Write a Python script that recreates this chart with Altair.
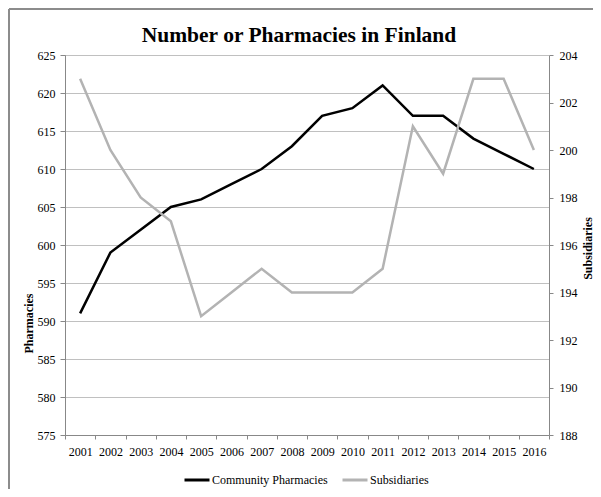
import altair as alt
import pandas as pd

title_text = "Number or Pharmacies in Finland"
years = [str(y) for y in range(2001, 2017)]
pharmacies = [591, 599, 602, 605, 606, 608, 610, 613, 617, 618, 621, 617, 617, 614, 612, 610]
subsidiaries = [203, 200, 198, 197, 193, 194, 195, 194, 194, 194, 195, 201, 199, 203, 203, 200]
series_names = ["Community Pharmacies", "Subsidiaries"]
series_colors = ["#000000", "#b3b3b3"]
left_ticks = list(range(575, 630, 5))
right_ticks = list(range(188, 206, 2))

df = pd.DataFrame({
    "year": years * 2,
    "value": pharmacies + subsidiaries,
    "series": [series_names[0]] * len(years) + [series_names[1]] * len(years),
})

FONT = "Liberation Serif"
W, H = 484, 380
axis_style = dict(labelFont=FONT, labelFontSize=12, labelColor="black",
                  titleFont=FONT, titleFontSize=12, titleFontWeight="bold", titleColor="black",
                  domainColor="#888888", tickColor="#888888")

color = alt.Color(
    "series:N",
    scale=alt.Scale(domain=series_names, range=series_colors),
    legend=alt.Legend(
        title=None, orient="none", direction="horizontal",
        legendX=118, legendY=411, symbolType="stroke", symbolSize=625,
        symbolStrokeWidth=3, labelOffset=1, columnPadding=8,
        labelFont=FONT, labelFontSize=12, labelColor="black",
    ),
)

x = alt.X(
    "year:O", bandPosition=0.5,
    scale=alt.Scale(type="band", paddingInner=0, paddingOuter=0),
    axis=alt.Axis(title=None, labelAngle=0, tickBand="extent", tickSize=4,
                  labelPadding=7, **axis_style),
)

base = alt.Chart(df)

left = base.transform_filter(alt.datum.series == series_names[0]).mark_line(strokeWidth=2.5).encode(
    x=x,
    y=alt.Y("value:Q", scale=alt.Scale(domain=[575, 625], nice=False, zero=False),
            axis=alt.Axis(values=left_ticks, grid=True, gridDash=[1, 1], gridColor="#808080",
                          gridWidth=1, tickSize=5, labelPadding=5, title="Pharmacies",
                          titleX=-30, titleY=268, titleAngle=270, **axis_style)),
    color=color,
)

right = base.transform_filter(alt.datum.series == series_names[1]).mark_line(strokeWidth=2.5).encode(
    x=x,
    y=alt.Y("value:Q", scale=alt.Scale(domain=[188, 204], nice=False, zero=False),
            axis=alt.Axis(orient="right", values=right_ticks, grid=False, tickSize=4,
                          labelPadding=6, title="Subsidiaries", titleX=45, titleY=193,
                          titleAngle=270, **axis_style)),
    color=color,
)

single = alt.Chart(alt.Data(values=[{}]))
frame_left = single.mark_rule(color="#8c8c8c", strokeWidth=2).encode(
    x=alt.value(-56), y=alt.value(-46), y2=alt.value(440))
frame_top = single.mark_rule(color="#8c8c8c", strokeWidth=2).encode(
    x=alt.value(-56), x2=alt.value(540), y=alt.value(-46))
title = single.mark_text(font=FONT, fontSize=21.5, fontWeight="bold", color="black",
                         align="center", baseline="alphabetic").encode(
    text=alt.value(title_text), x=alt.value(234), y=alt.value(-13))

chart = alt.layer(left, right, frame_left, frame_top, title).resolve_scale(
    y="independent"
).properties(
    width=W, height=H,
    autosize=alt.AutoSizeParams(type="none"),
    padding={"left": 57, "top": 47, "right": 44, "bottom": 54},
).configure_axis(
    labelFont=FONT, labelFontSize=12, labelColor="black",
    titleFont=FONT, titleFontSize=12, titleFontWeight="bold", titleColor="black",
).configure_view(stroke=None)

chart.save("out.html", embed_options={"renderer": "svg", "actions": False})
